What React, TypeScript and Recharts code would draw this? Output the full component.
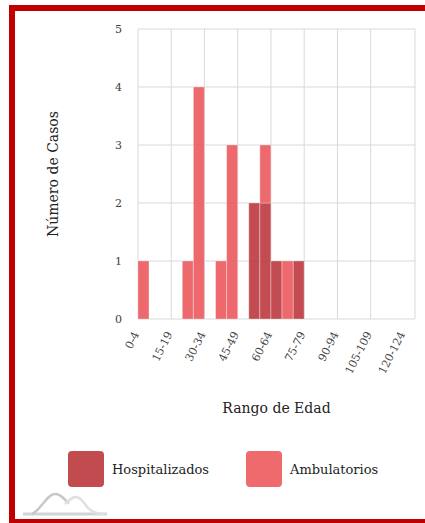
import React from 'react';
import { BarChart, Bar, XAxis, YAxis, CartesianGrid } from 'recharts';

// Age bins (5-year ranges)
const bins: string[] = [
  '0-4', '5-9', '10-14', '15-19', '20-24', '25-29', '30-34', '35-39', '40-44', '45-49',
  '50-54', '55-59', '60-64', '65-69', '70-74', '75-79', '80-84', '85-89', '90-94', '95-99',
  '100-104', '105-109', '110-114', '115-119', '120-124',
];
const hospitalizados: number[] = [0, 0, 0, 0, 0, 0, 0, 0, 0, 0, 2, 2, 1, 0, 1, 0, 0, 0, 0, 0, 0, 0, 0, 0, 0];
const ambulatorios: number[] = [1, 0, 0, 0, 1, 4, 0, 1, 3, 0, 0, 1, 0, 1, 0, 0, 0, 0, 0, 0, 0, 0, 0, 0, 0];
const yTicks: number[] = [0, 1, 2, 3, 4, 5];
const gridTicks: number[] = [0, 3, 6, 9, 12, 15, 18, 21, 24, 25];

const seriesNames = ['Hospitalizados', 'Ambulatorios'];
const seriesColors = ['#BB393E', '#EC595D'];
const legendColors = ['#C24B4F', '#EE6A6D'];

const data = bins.map((b, i) => ({
  bin: b,
  idx: i,
  Hospitalizados: hospitalizados[i],
  Ambulatorios: ambulatorios[i],
}));

const FONT = "'DejaVu Serif', serif";

const AngledTick = (props: any) => {
  const { x, y, payload } = props;
  return (
    <text
      x={0}
      y={0}
      transform={`translate(${x - 4},${y + 15}) rotate(-63)`}
      textAnchor="end"
      fontSize={11}
      fontFamily={FONT}
      fill="#404040"
    >
      {payload.value}
    </text>
  );
};

const YTick = (props: any) => {
  const { x, y, payload } = props;
  return (
    <text x={x} y={y + 4} textAnchor="end" fontSize={11} fontFamily={FONT} fill="#404040">
      {payload.value}
    </text>
  );
};

export default function App() {
  return (
    <div
      style={{
        position: 'absolute',
        left: 9,
        top: 5,
        width: 440,
        height: 508,
        border: '6px solid #C00000',
        background: '#fff',
      }}
    >
      <BarChart
        width={410}
        height={508}
        data={data}
        margin={{ top: 18, right: 10, bottom: 140, left: 63 }}
        barCategoryGap={0}
        barGap={0}
      >
        <CartesianGrid xAxisId="grid" yAxisId="y" stroke="#d9d9d9" strokeWidth={1} />
        <XAxis
          xAxisId="grid"
          type="number"
          dataKey="idx"
          domain={[0, 25]}
          ticks={gridTicks}
          allowDataOverflow
          hide
        />
        <XAxis
          xAxisId="bins"
          dataKey="bin"
          interval={2}
          height={60}
          tickLine={false}
          axisLine={false}
          tickSize={0}
          tickMargin={0}
          tick={<AngledTick />}
          label={{
            content: (p: any) => {
              const vb = p.viewBox;
              return (
                <text
                  x={vb.x + vb.width / 2}
                  y={vb.y + 94}
                  textAnchor="middle"
                  fontSize={14}
                  fontFamily={FONT}
                  fill="#222"
                >
                  Rango de Edad
                </text>
              );
            },
          }}
        />
        <YAxis
          yAxisId="y"
          domain={[0, 5]}
          ticks={yTicks}
          width={60}
          tickLine={false}
          axisLine={false}
          tickSize={0}
          tickMargin={16}
          tick={<YTick />}
          label={{
            content: (p: any) => {
              const vb = p.viewBox;
              const cx = vb.x - 20;
              const cy = vb.y + vb.height / 2;
              return (
                <text
                  x={cx}
                  y={cy}
                  transform={`rotate(-90 ${cx} ${cy})`}
                  textAnchor="middle"
                  fontSize={14}
                  fontFamily={FONT}
                  fill="#222"
                >
                  Número de Casos
                </text>
              );
            },
          }}
        />
        <Bar
          xAxisId="bins"
          yAxisId="y"
          dataKey="Hospitalizados"
          stackId="a"
          fill={seriesColors[0]}
          fillOpacity={0.9}
          stroke="#ffffff"
          strokeOpacity={0.3}
          strokeWidth={1}
          isAnimationActive={false}
        />
        <Bar
          xAxisId="bins"
          yAxisId="y"
          dataKey="Ambulatorios"
          stackId="a"
          fill={seriesColors[1]}
          fillOpacity={0.9}
          stroke="#ffffff"
          strokeOpacity={0.3}
          strokeWidth={1}
          isAnimationActive={false}
        />
      </BarChart>

      {/* Legend */}
      {seriesNames.map((name, i) => (
        <div
          key={name}
          style={{ position: 'absolute', left: 53 + i * 178, top: 440, display: 'flex', alignItems: 'center' }}
        >
          <div
            style={{
              width: 36,
              height: 36,
              borderRadius: 4,
              background: legendColors[i],
            }}
          />
          <span
            style={{
              marginLeft: 8,
              fontFamily: FONT,
              fontSize: 13,
              color: '#222',
            }}
          >
            {name}
          </span>
        </div>
      ))}

      {/* Logo */}
      <svg
        style={{ position: 'absolute', left: 0, top: 475 }}
        width={100}
        height={33}
      >
        <path d="M 8 28 L 92 28" stroke="#d4d4d4" strokeWidth={3} fill="none" />
        <path
          d="M 17 28 C 26 24, 32 8, 40 8 C 47 8, 50 15, 54 17"
          stroke="#c8c8c8"
          strokeWidth={2.5}
          fill="none"
        />
        <path
          d="M 50 18 C 54 14, 57 11, 61 11 C 66 11, 70 18, 73 22 C 77 26, 82 28, 90 28"
          stroke="#e0e0e0"
          strokeWidth={2.5}
          fill="none"
        />
      </svg>
    </div>
  );
}
